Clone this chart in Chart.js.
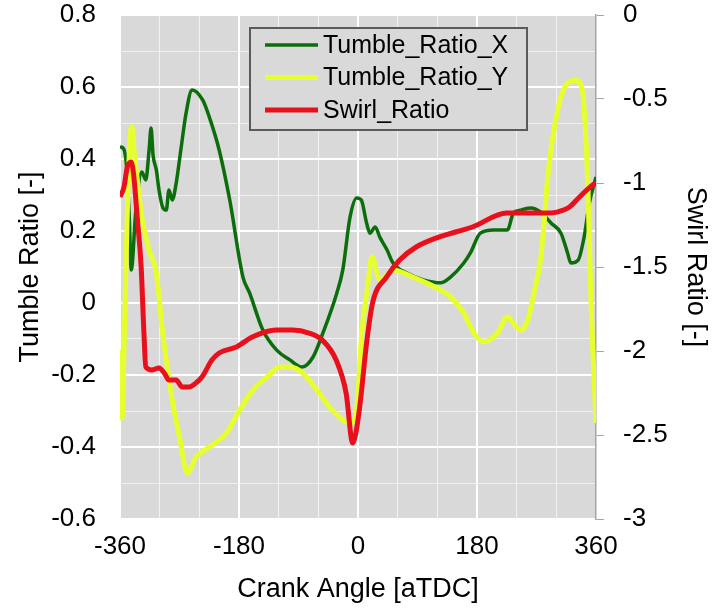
<!DOCTYPE html>
<html>
<head>
<meta charset="utf-8">
<script src="https://cdn.jsdelivr.net/npm/chart.js@4"></script>
<style>
    html, body { margin: 0; padding: 0; background: #fff; }
    #wrap { width: 720px; height: 616px; }
</style>
</head>
<body>
<div id="wrap"><canvas id="tumbleChart"></canvas></div>
<script>
(function() {
    // crank angle [aTDC] and values
    const angleTX = [-360, -358, -351, -346, -343, -336, -327, -321, -316, -313, -310, -305, -301, -295, -290, -286, -281, -275, -268, -260, -251, -235, -225, -210, -194, -174, -164, -144, -123, -103, -85, -68, -53, -32, -23, -12, -2, 5, 13, 18, 26, 33, 44, 53, 74, 99, 125, 140, 160, 170, 185, 205, 226, 235, 246, 261, 276, 292, 307, 317, 322, 333, 342, 350, 360];
    const tumbleX = [0.43, 0.433, 0.397, 0.239, 0.092, 0.258, 0.364, 0.342, 0.425, 0.486, 0.411, 0.369, 0.314, 0.264, 0.258, 0.314, 0.286, 0.333, 0.425, 0.528, 0.592, 0.564, 0.517, 0.425, 0.286, 0.072, 0.028, -0.075, -0.131, -0.158, -0.178, -0.15, -0.083, 0.028, 0.092, 0.239, 0.292, 0.286, 0.222, 0.194, 0.211, 0.183, 0.147, 0.111, 0.083, 0.064, 0.056, 0.072, 0.111, 0.139, 0.194, 0.203, 0.203, 0.25, 0.258, 0.264, 0.253, 0.222, 0.194, 0.139, 0.111, 0.119, 0.183, 0.278, 0.35];

    const angleTY = [-360, -357, -353, -349, -345, -342, -339, -336, -327, -316, -305, -296, -290, -281, -270, -258, -245, -225, -199, -179, -159, -138, -118, -103, -84, -62, -43, -23, -12, -3, 6, 14, 21, 33, 53, 83, 125, 140, 160, 175, 190, 211, 226, 235, 246, 257, 266, 276, 281, 287, 302, 317, 330, 340, 345, 348, 352, 360];
    const tumbleY = [-0.13, -0.32, -0.05, 0.25, 0.45, 0.49, 0.43, 0.378, 0.239, 0.147, 0.083, -0.075, -0.158, -0.269, -0.372, -0.472, -0.428, -0.4, -0.361, -0.297, -0.242, -0.206, -0.178, -0.178, -0.194, -0.242, -0.289, -0.325, -0.333, -0.311, -0.075, 0.036, 0.128, 0.064, 0.092, 0.072, 0.036, 0.017, -0.028, -0.083, -0.108, -0.083, -0.039, -0.056, -0.075, -0.047, 0.028, 0.119, 0.211, 0.35, 0.536, 0.611, 0.619, 0.583, 0.444, 0.306, 0.028, -0.333];

    const angleSW = [-360, -354, -349, -343, -339, -334, -328, -324, -321, -312, -301, -293, -286, -275, -266, -255, -245, -236, -221, -210, -184, -160, -124, -99, -74, -54, -33, -18, -8, 2, 13, 22, 43, 63, 88, 123, 173, 225, 249, 285, 301, 320, 335, 355, 360];
    const swirl = [-1.083, -1.024, -0.905, -0.875, -0.964, -1.202, -1.5, -1.875, -2.095, -2.113, -2.101, -2.131, -2.173, -2.173, -2.214, -2.214, -2.19, -2.155, -2.054, -2.012, -1.976, -1.917, -1.875, -1.875, -1.893, -1.935, -2.054, -2.25, -2.548, -2.351, -1.952, -1.714, -1.56, -1.458, -1.381, -1.321, -1.262, -1.179, -1.179, -1.179, -1.173, -1.143, -1.083, -1.012, -1.0];

    const seriesNames = ['Tumble_Ratio_X', 'Tumble_Ratio_Y', 'Swirl_Ratio'];
    const xTicks = [-360, -180, 0, 180, 360];

    const FONT = 'Liberation Sans, Arial, sans-serif';

    function pts(xs, ys) {
        return xs.map((a, i) => ({ x: a, y: ys[i] }));
    }

    // pin the axis boxes so the plot sits where the original one does
    function fixBox(w, h) {
        return s => {
            if (w) s.width = w;
            if (h) s.height = h;
            s.paddingTop = 15;
            s.paddingBottom = 0;
            s.paddingLeft = 0;
            s.paddingRight = 0;
        };
    }

    // grey plot background
    const plotBg = {
        id: 'plotBg',
        beforeDraw(chart) {
            const a = chart.chartArea, ctx = chart.ctx;
            ctx.save();
            ctx.fillStyle = '#d9d9d9';
            ctx.fillRect(a.left, a.top, a.right - a.left, a.bottom - a.top);
            ctx.restore();
        }
    };

    // legend box floating inside the plot
    const boxLegend = {
        id: 'boxLegend',
        afterDraw(chart) {
            const a = chart.chartArea, ctx = chart.ctx;
            const left = a.left + 130, top = a.top + 13, w = 277, h = 102;
            ctx.save();
            ctx.fillStyle = '#d9d9d9';
            ctx.fillRect(left, top, w, h);
            ctx.strokeStyle = '#5a5a5a';
            ctx.lineWidth = 2;
            ctx.strokeRect(left, top, w, h);
            ctx.font = '25px ' + FONT;
            ctx.textBaseline = 'middle';
            chart.data.datasets.forEach((ds, i) => {
                const y = top + 17 + i * 32.5;
                ctx.strokeStyle = ds.borderColor;
                ctx.lineWidth = ds.borderWidth;
                ctx.beginPath();
                ctx.moveTo(left + 15, y);
                ctx.lineTo(left + 68, y);
                ctx.stroke();
                ctx.fillStyle = '#000';
                ctx.fillText(ds.label, left + 73, y + 1);
            });
            ctx.restore();
        }
    };

    const ctx = document.getElementById('tumbleChart').getContext('2d');
    new Chart(ctx, {
        type: 'line',
        data: {
            datasets: [{
                label: seriesNames[0],
                data: pts(angleTX, tumbleX),
                yAxisID: 'y',
                borderColor: '#0b6e0b',
                borderWidth: 3.5,
                order: 3
            }, {
                label: seriesNames[1],
                data: pts(angleTY, tumbleY),
                yAxisID: 'y',
                borderColor: '#e8ff2e',
                borderWidth: 5,
                order: 2
            }, {
                label: seriesNames[2],
                data: pts(angleSW, swirl),
                yAxisID: 'y1',
                borderColor: '#e8101c',
                borderWidth: 5,
                order: 1
            }]
        },
        options: {
            responsive: true,
            maintainAspectRatio: false,
            animation: false,
            events: [],
            layout: { padding: 0 },
            elements: {
                point: { radius: 0 },
                line: { cubicInterpolationMode: 'monotone', fill: false }
            },
            plugins: {
                legend: { display: false },
                tooltip: { enabled: false }
            },
            scales: {
                x: {
                    type: 'linear',
                    min: -360,
                    max: 360,
                    afterFit: fixBox(0, 97),
                    ticks: {
                        stepSize: 60,
                        padding: 12,
                        autoSkip: false,
                        maxRotation: 0,
                        minRotation: 0,
                        color: '#000',
                        font: { family: FONT, size: 26 },
                        callback: v => xTicks.includes(v) ? String(v) : ''
                    },
                    grid: {
                        drawTicks: false,
                        color: c => (c.tick && c.tick.value % 180 === 0) ? '#ffffff' : 'rgba(255,255,255,0.65)',
                        lineWidth: c => (c.tick && c.tick.value % 180 === 0) ? 2 : 1
                    },
                    border: { display: false },
                    title: {
                        display: true,
                        text: 'Crank Angle [aTDC]',
                        color: '#000',
                        font: { family: FONT, size: 27 },
                        padding: { top: 10, bottom: 10 }
                    }
                },
                y: {
                    position: 'left',
                    min: -0.6,
                    max: 0.8,
                    afterFit: fixBox(120, 0),
                    ticks: {
                        stepSize: 0.1,
                        padding: 24,
                        autoSkip: false,
                        color: '#000',
                        font: { family: FONT, size: 26 },
                        callback: v => Math.round(v * 10) % 2 === 0 ? String(Math.round(v * 10) / 10) : ''
                    },
                    grid: {
                        drawTicks: false,
                        color: c => (c.tick && Math.round(c.tick.value * 10) % 2 === 0) ? '#ffffff' : 'rgba(255,255,255,0.6)',
                        lineWidth: c => (c.tick && Math.round(c.tick.value * 10) % 2 === 0) ? 2 : 1
                    },
                    border: { display: false },
                    title: {
                        display: true,
                        text: 'Tumble Ratio [-]',
                        color: '#000',
                        font: { family: FONT, size: 27 },
                        padding: { top: 14, bottom: 4 }
                    }
                },
                y1: {
                    position: 'right',
                    min: -3,
                    max: 0,
                    afterFit: fixBox(124, 0),
                    ticks: {
                        stepSize: 0.5,
                        padding: 19,
                        color: '#000',
                        font: { family: FONT, size: 26 },
                        callback: v => String(Math.round(v * 10) / 10)
                    },
                    grid: {
                        drawOnChartArea: false,
                        drawTicks: true,
                        tickLength: 8,
                        tickColor: '#a6a6a6'
                    },
                    border: { display: true, color: '#a6a6a6', width: 1.5 },
                    title: {
                        display: true,
                        text: 'Swirl Ratio [-]',
                        color: '#000',
                        font: { family: FONT, size: 27 },
                        padding: { top: 8, bottom: 4 }
                    }
                }
            }
        },
        plugins: [plotBg, boxLegend]
    });
})();
</script>
</body>
</html>
